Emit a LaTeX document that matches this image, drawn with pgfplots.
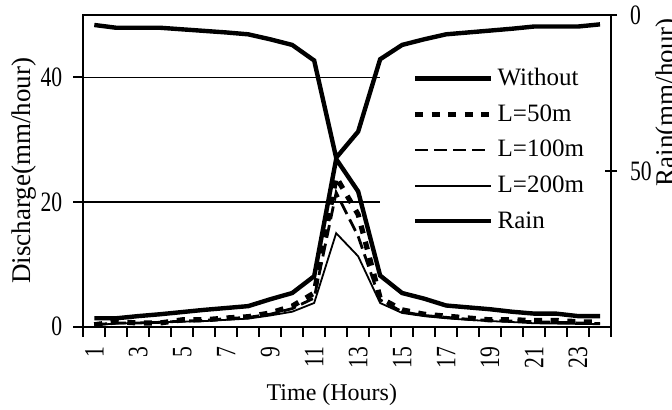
\documentclass[border=0pt]{standalone}
\usepackage{pgfplots}
\pgfplotsset{compat=1.18}
\usepackage{pgfplotstable}
\usepackage{fontspec}
\setmainfont{Liberation Serif}
\newcommand\tl[1]{\scalebox{0.9}[1.17]{#1}}

\pgfplotstableread{
x without l50 l100 l200 rain
1  1.35 0.3  0.3  0.27 3.2
2  1.35 0.8  0.6  0.5  4.1
3  1.7  0.6  0.6  0.6  4.1
4  2.0  0.6  0.7  0.7  4.1
5  2.35 1.1  0.9  0.8  4.6
6  2.7  1.1  1.0  0.9  5.1
7  3.0  1.4  1.3  1.1  5.6
8  3.3  1.6  1.5  1.3  6.2
9  4.4  2.2  2.0  1.8  7.8
10 5.4  3.3  2.9  2.4  9.6
11 8.1  5.4  4.6  3.8  14.6
12 26.9 24.0 21.5 15.0 45.8
13 21.7 18.0 14.5 11.3 37.4
14 8.2  4.6  4.3  3.8  14.2
15 5.4  2.7  2.4  2.2  9.6
16 4.5  2.0  1.8  1.7  7.8
17 3.4  1.7  1.5  1.35 6.2
18 3.1  1.4  1.2  1.1  5.6
19 2.8  1.1  1.0  0.9  5.0
20 2.4  1.1  0.9  0.75 4.4
21 2.1  1.0  0.8  0.55 3.7
22 2.1  1.0  0.7  0.5  3.7
23 1.7  0.8  0.6  0.45 3.7
24 1.7  0.7  0.5  0.4  3.0
}\datatable

\begin{document}
\begin{tikzpicture}[font=\fontsize{12}{14}\selectfont]
\begin{axis}[
  scale only axis, width=263.85pt, height=155.85pt,
  xmin=0.5, xmax=24.5, ymin=0, ymax=50,
  axis line style={line width=0.9pt},
  every tick/.style={black, line width=0.9pt},
  tick align=outside,
  xtick pos=bottom, ytick pos=left,
  xtick={0.5,1.5,...,24.5}, xticklabels={},
  major tick length=5pt,
  extra x ticks={1,3,5,7,9,11,13,15,17,19,21,23},
  extra x tick labels={\tl{1},\tl{3},\tl{5},\tl{7},\tl{9},\tl{11},\tl{13},\tl{15},\tl{17},\tl{19},\tl{21},\tl{23}},
  extra x tick style={major tick length=0pt, tick label style={yshift=-10pt, rotate=90, anchor=east, inner sep=0pt}},
  ytick={0,20,40},
  yticklabels={\tl{0},\tl{20},\tl{40}},
  yticklabel style={xshift=-2pt},
  ymajorgrids, grid style={black, line width=0.6pt},
  xlabel={Time (Hours)},
  xlabel style={at={(axis description cs:0.471,-0.2352)}, anchor=base, font=\fontsize{12}{14}\selectfont},
  ylabel={Discharge(mm/hour)},
  ylabel style={at={(axis description cs:-0.0999,0.5)}, anchor=base, font=\fontsize{13.5}{15}\selectfont},
  legend cell align=left,
  legend image code/.code={\draw[#1] (0pt,0pt) -- (38pt,0pt);},
  legend style={draw=none, fill=white, at={(axis description cs:0.5623,0.856)}, anchor=north west,
    inner xsep=16pt, inner ysep=2pt, row sep=4pt,
    font=\fontsize{12.5}{14}\selectfont},
]
\addplot[black, line width=2.2pt] table[x=x,y=without]{\datatable};
\addlegendentry{Without}
\addplot[black, line width=2.6pt, dash pattern=on 4pt off 4.3pt] table[x=x,y=l50]{\datatable};
\addlegendentry{L=50m}
\addplot[black, line width=1.4pt, dash pattern=on 6.5pt off 3pt] table[x=x,y=l100]{\datatable};
\addlegendentry{L=100m}
\addplot[black, line width=0.9pt] table[x=x,y=l200]{\datatable};
\addlegendentry{L=200m}
\addlegendimage{black, line width=2.2pt}
\addlegendentry{Rain}
\end{axis}
\begin{axis}[
  scale only axis, width=263.85pt, height=155.85pt,
  xmin=0.5, xmax=24.5, ymin=0, ymax=100, y dir=reverse,
  axis x line=none, axis y line*=right,
  axis line style={line width=0.9pt},
  every tick/.style={black, line width=0.9pt},
  ytick={0,50}, yticklabels={\tl{0},\tl{50}},
  tick align=center, major tick length=6pt,
  yticklabel style={xshift=3pt},
  ylabel={Rain(mm/hour)},
  ylabel style={at={(axis description cs:1.1204,0.7193)}, anchor=base, font=\fontsize{13.5}{15}\selectfont},
]
\addplot[black, line width=2.2pt] table[x=x,y=rain]{\datatable};
\end{axis}
\pgfresetboundingbox
\path (-41.65pt,-41.65pt) rectangle (294.35pt,163.35pt);
\end{tikzpicture}
\end{document}
